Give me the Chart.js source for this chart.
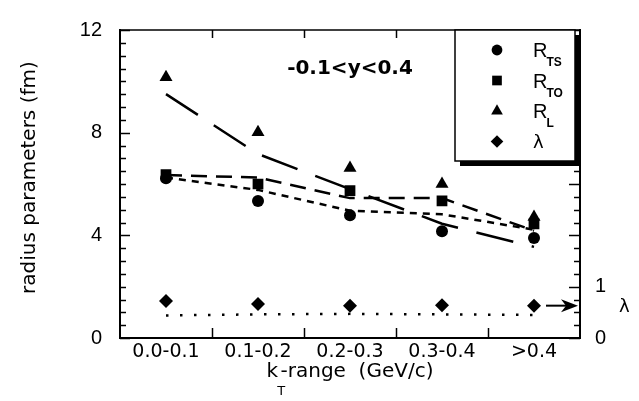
<!DOCTYPE html>
<html><head><meta charset="utf-8">
<script src="https://cdn.jsdelivr.net/npm/chart.js@4.4.1/dist/chart.umd.min.js"></script>
<style>html,body{margin:0;padding:0;background:#fff;}#wrap{width:639px;height:401px;position:relative;}canvas{display:block;}</style>
</head><body><div id="wrap"><canvas id="c" width="639" height="401" style="width:639px;height:401px"></canvas></div>
<script>
// ---- data ----
const categories = ['0.0-0.1', '0.1-0.2', '0.2-0.3', '0.3-0.4', '>0.4'];
const rTS = [6.22, 5.34, 4.78, 4.16, 3.90];
const rTO = [6.37, 6.00, 5.74, 5.34, 4.45];
const rL  = [10.16, 8.02, 6.62, 6.00, 4.71];
const lambda = [0.72, 0.66, 0.63, 0.64, 0.63];
const fitTS = [6.25, 5.77, 4.96, 4.82, 4.22];
const fitTO = [6.35, 6.25, 5.45, 5.45, 4.18];
const fitL  = [9.50, 7.17, 5.80, 4.45, 3.55];
const fitLambda = [0.44, 0.46, 0.47, 0.46, 0.45];
const leftTicks = [0, 4, 8, 12];
const rightTicks = [0, 1];
const seriesNames = [['R', 'TS'], ['R', 'TO'], ['R', 'L'], ['λ', '']];
const rangeLabel = '-0.1<y<0.4';
const rangeLabelY = 10.5;
const arrowLambda = 0.63;
const lambdaLabelAt = 0.6;
const yTitle = 'radius parameters (fm)';
const yTitleAt = 6.25;
const xTitleMain = 'k', xTitleSub = 'T', xTitleRest = '-range  (GeV/c)';

const BLACK = '#000';
const pts = (label, data, style, r, axis) => ({
  label, data, yAxisID: axis || 'y', showLine: false, pointStyle: style,
  pointRadius: r, pointHoverRadius: r, pointBackgroundColor: BLACK,
  pointBorderColor: BLACK, pointBorderWidth: 0, borderColor: BLACK, backgroundColor: BLACK
});
const fit = (data, dash, axis, w) => ({
  data, yAxisID: axis || 'y', borderColor: BLACK, borderWidth: w || 2.5,
  borderDash: dash, pointRadius: 0, pointHoverRadius: 0, fill: false, tension: 0,
  borderCapStyle: 'butt', isFit: true
});

function shape(c, style, x, y, r) {
  c.beginPath();
  if (style === 'circle') c.arc(x, y, r, 0, Math.PI * 2);
  else if (style === 'rect') { const s = r * Math.SQRT1_2; c.rect(x - s, y - s, 2 * s, 2 * s); }
  else if (style === 'triangle') { c.moveTo(x, y - r); c.lineTo(x + r * 0.866, y + r * 0.5); c.lineTo(x - r * 0.866, y + r * 0.5); c.closePath(); }
  else if (style === 'rectRot') { c.moveTo(x, y - r); c.lineTo(x + r, y); c.lineTo(x, y + r); c.lineTo(x - r, y); c.closePath(); }
  c.fill();
}

const decor = {
  id: 'decor',
  afterDraw(chart) {
    const c = chart.ctx, ca = chart.chartArea;
    const xs = chart.scales.x, ys = chart.scales.y, y2 = chart.scales.y2;
    c.save();
    c.strokeStyle = BLACK; c.fillStyle = BLACK;
    // top frame
    c.lineWidth = 1.5;
    c.beginPath(); c.moveTo(ca.left, ca.top); c.lineTo(ca.right, ca.top); c.stroke();
    // left ticks (inward)
    for (let v = ys.min; v <= ys.max + 1e-9; v += 0.5) {
      const py = Math.round(ys.getPixelForValue(v)) + 0.5;
      const len = (Math.abs(v % 4) < 1e-9) ? 10 : 6;
      c.beginPath(); c.moveTo(ca.left, py); c.lineTo(ca.left + len, py); c.stroke();
    }
    // right ticks (inward)
    for (let v = y2.min; v <= y2.max + 1e-9; v += 0.25) {
      const py = Math.round(y2.getPixelForValue(v)) + 0.5;
      const len = (Math.abs(v % 1) < 1e-9) ? 11 : 6;
      c.beginPath(); c.moveTo(ca.right, py); c.lineTo(ca.right - len, py); c.stroke();
    }
    // category boundary ticks
    for (let i = 1; i < categories.length; i++) {
      const px = Math.round((xs.getPixelForValue(i - 1) + xs.getPixelForValue(i)) / 2) + 0.5;
      c.beginPath(); c.moveTo(px, ca.bottom); c.lineTo(px, ca.bottom - 10); c.stroke();
      c.beginPath(); c.moveTo(px, ca.top); c.lineTo(px, ca.top + 8); c.stroke();
    }
    // y title (rotated)
    c.save();
    c.font = "20px 'DejaVu Sans'";
    c.textAlign = 'center'; c.textBaseline = 'middle';
    c.translate(30, ys.getPixelForValue(yTitleAt));
    c.rotate(-Math.PI / 2);
    c.fillText(yTitle, 0, 0);
    c.restore();
    // range annotation
    c.font = "bold 20px 'DejaVu Sans'";
    c.textAlign = 'center'; c.textBaseline = 'middle';
    c.fillText(rangeLabel, xs.getPixelForValue(2), ys.getPixelForValue(rangeLabelY));
    // arrow to lambda axis
    const ay = y2.getPixelForValue(arrowLambda);
    const tip = ca.right - 2;
    c.lineWidth = 2;
    c.beginPath(); c.moveTo(tip - 32, ay); c.lineTo(tip - 10, ay); c.stroke();
    c.beginPath(); c.moveTo(tip, ay); c.lineTo(tip - 17, ay - 6.5); c.lineTo(tip - 12, ay); c.lineTo(tip - 17, ay + 6.5); c.closePath(); c.fill();
    // lambda axis label
    c.font = "18px 'DejaVu Sans'";
    c.textAlign = 'left'; c.textBaseline = 'middle';
    c.fillText('λ', ca.right + 39, y2.getPixelForValue(lambdaLabelAt));
    // x title with subscript
    const mainFont = "20px 'DejaVu Sans'", subFont = "13px 'DejaVu Sans'";
    c.font = mainFont; const wK = c.measureText(xTitleMain).width; const wR = c.measureText(xTitleRest).width;
    c.font = subFont; const wT = c.measureText(xTitleSub).width;
    const gap = wT * 0.3;
    const total = wK + gap + wR;
    let tx = (ca.left + ca.right) / 2 - total / 2;
    const base = ca.bottom + 39;
    c.textBaseline = 'alphabetic'; c.textAlign = 'left';
    c.font = mainFont; c.fillText(xTitleMain, tx, base);
    c.font = subFont; c.fillText(xTitleSub, tx + wK - 1, base + 18);
    c.font = mainFont; c.fillText(xTitleRest, tx + wK + gap, base);
    // legend box with shadow
    const bx = ca.right - 125, by = ca.top, bw = 120, bh = 131;
    c.fillStyle = BLACK; c.fillRect(bx + 5, by + 5, bw, bh);
    c.fillStyle = '#fff'; c.fillRect(bx, by, bw, bh);
    c.lineWidth = 1.5; c.strokeStyle = BLACK; c.strokeRect(bx, by, bw, bh);
    c.fillStyle = BLACK;
    const pointSets = chart.data.datasets.filter(d => !d.isFit);
    pointSets.forEach((d, i) => {
      const ry = by + 20 + i * 30.5;
      shape(c, d.pointStyle, bx + 42, ry, d.pointRadius * 0.9);
      const [m, s] = seriesNames[i];
      c.textBaseline = 'alphabetic';
      if (s) {
        c.font = "20px 'Liberation Sans'"; c.fillText(m, bx + 78, ry + 7);
        const mw = c.measureText(m).width;
        c.font = "bold 12px 'Liberation Sans'"; c.fillText(s, bx + 78 + mw - 1, ry + 16);
      } else {
        c.font = "18px 'DejaVu Sans'"; c.fillText(m, bx + 78, ry + 6);
      }
    });
    c.restore();
  }
};

new Chart(document.getElementById('c'), {
  type: 'line',
  data: {
    labels: categories,
    datasets: [
      pts('R_TS', rTS, 'circle', 6),
      pts('R_TO', rTO, 'rect', 7.6),
      pts('R_L', rL, 'triangle', 7.5),
      pts('λ', lambda, 'rectRot', 7, 'y2'),
      fit(fitTS, [7, 6]),
      fit(fitTO, [16, 9]),
      fit(fitL, [38, 19]),
      fit(fitLambda, [2.5, 11.5], 'y2', 2.5)
    ]
  },
  options: {
    responsive: false, animation: false, events: [],
    devicePixelRatio: 1,
    layout: { padding: { top: 12, left: 0, right: 0, bottom: 0 } },
    plugins: { legend: { display: false }, tooltip: { enabled: false } },
    scales: {
      x: {
        type: 'category', offset: true,
        grid: { display: false, drawTicks: false },
        border: { display: true, color: BLACK, width: 2 },
        ticks: { color: BLACK, font: { family: "'DejaVu Sans'", size: 19 }, padding: 3, maxRotation: 0, autoSkip: false },
        afterFit: s => { s.height = 63; }
      },
      y: {
        position: 'left', min: 0, max: 12,
        grid: { display: false, drawTicks: false },
        border: { display: true, color: BLACK, width: 2 },
        afterBuildTicks: s => { s.ticks = leftTicks.map(v => ({ value: v })); },
        ticks: { color: BLACK, font: { family: "'Liberation Sans'", size: 20 }, padding: 18 },
        title: { display: false },
        afterFit: s => { s.width = 120; }
      },
      y2: {
        position: 'right', min: 0, max: 6,
        grid: { display: false, drawTicks: false },
        border: { display: true, color: BLACK, width: 2 },
        afterBuildTicks: s => { s.ticks = rightTicks.map(v => ({ value: v })); },
        ticks: { color: BLACK, font: { family: "'Liberation Sans'", size: 20 }, padding: 15 },
        afterFit: s => { s.width = 59; }
      }
    }
  },
  plugins: [decor]
});
</script></body></html>
